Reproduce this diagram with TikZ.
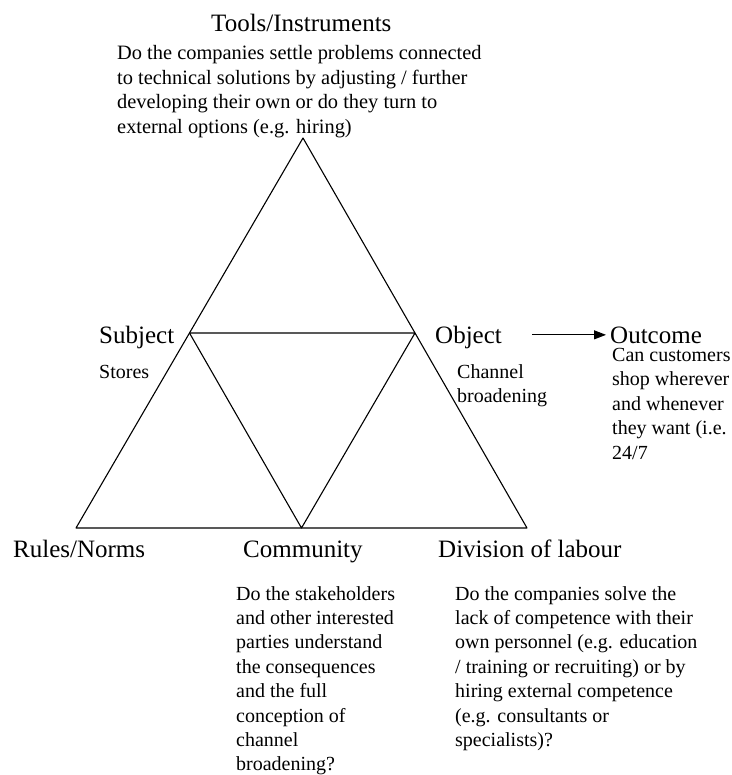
\documentclass[tikz,border=0pt]{standalone}
\usepackage{fontspec}
\setmainfont{Liberation Serif}
\usetikzlibrary{arrows.meta,positioning,calc}

\begin{document}
\begin{tikzpicture}[x=1pt, y=-1pt,
  corner/.style={font=\fontsize{25}{30}\selectfont, inner sep=0pt, anchor=base west},
  note/.style={font=\fontsize{20}{24.4}\selectfont, inner sep=0pt, anchor=base west, align=left},
  edge/.style={draw=black, line width=1.1pt, line join=round}
]
  \useasboundingbox (0,0) rectangle (731,775);
  % triangle corners
  \coordinate (top) at (303,138);
  \coordinate (bl) at (76,528);
  \coordinate (br) at (527,528);
  \coordinate (subj) at ($(top)!0.5!(bl)$);
  \coordinate (objc) at ($(top)!0.5!(br)$);
  \coordinate (bm) at ($(bl)!0.5!(br)$);
  \draw[edge] (top) -- (bl) -- (br) -- cycle;
  \draw[edge] (subj) -- (objc) -- (bm) -- cycle;

  % labels (notes are placed by the baseline of their last line)
  \node[corner] (tools) at (211,32) {Tools/Instruments};
  \node[note, font=\fontsize{20.4}{24.4}\selectfont] (toolsq) at (117,133.2) {Do the companies settle problems connected\\
    to technical solutions  by adjusting / further\\
    developing  their own or do they turn to\\
    external options (e.g. hiring)};
  \node[corner] (subjlbl) at (99,343) {Subject};
  \node[note] (stores) at (99,378) {Stores};
  \node[corner] (obj) at (435,343) {Object};
  \node[note] (objq) at (457,402.4) {Channel\\ broadening};
  \node[corner] (outc) at (610,343) {Outcome};
  \node[note] (outq) at (612,459) {Can customers\\ shop wherever\\ and whenever\\ they want (i.e.\\ 24/7};
  \node[corner] (rules) at (13,557) {Rules/Norms};
  \node[corner] (comm) at (243,557) {Community};
  \node[corner] (div) at (438,557) {Division of labour};
  \node[note] (commq) at (236,770.8) {Do the stakeholders\\ and other interested\\
    parties understand\\ the consequences\\ and the full\\ conception of\\
    channel\\ broadening?};
  \node[note] (divq) at (455,746.4) {Do the companies solve the\\
    lack of competence with their\\ own personnel (e.g. education\\
    / training or recruiting) or by\\ hiring external competence\\
    (e.g. consultants or\\ specialists)?};

  \draw[line width=1pt, -{Triangle[length=12pt, width=9pt]}, shorten <=30pt, shorten >=4pt]
    (obj.east |- outc.west) -- (outc.west);
\end{tikzpicture}
\end{document}
